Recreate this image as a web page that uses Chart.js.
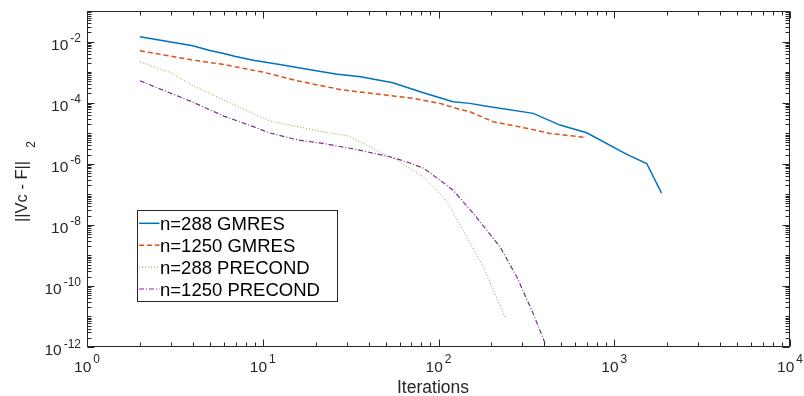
<!DOCTYPE html>
<html><head><meta charset="utf-8">
<script src="https://cdn.jsdelivr.net/npm/chart.js@4/dist/chart.umd.min.js"></script>
<style>html,body{margin:0;padding:0;background:#fff}canvas{display:block}</style>
</head><body>
<canvas id="c" width="804" height="396"></canvas>
<script>
// ---- data ----
const seriesLabels = ['n=288 GMRES', 'n=1250 GMRES', 'n=288 PRECOND', 'n=1250 PRECOND'];

const iterGmres288 = [2,3,4,5,6,7,9,10,13,16,19,26,36,55,82,121,151,180,346,491,697,1178,1530,1858];
const resGmres288  = [1.44e-2,9.6e-3,7.3e-3,5.08e-3,4.06e-3,3.23e-3,2.40e-3,2.18e-3,1.70e-3,1.39e-3,1.17e-3,8.63e-4,7.03e-4,4.48e-4,2.10e-4,1.07e-4,9.46e-5,7.89e-5,4.45e-5,1.84e-5,1.03e-5,2.02e-6,1.02e-6,1.09e-7];

const iterGmres1250 = [2,4,6,10,16,28,46,72,102,132,151,205,318,431,697];
const resGmres1250  = [5.0e-3,2.48e-3,1.77e-3,1.0e-3,5.08e-4,2.64e-4,1.87e-4,1.38e-4,9.46e-5,6.01e-5,5.02e-5,2.36e-5,1.44e-5,9.84e-6,7.16e-6];

const iterPrec288 = [2,3,4,6,9,11,16,22,31,39,46,58,70,82,106,116,145,180,205,239];
const resPrec288  = [2.18e-3,9.5e-4,3.6e-4,1.21e-4,4.12e-5,2.49e-5,1.62e-5,1.11e-5,8.02e-6,4.06e-6,2.45e-6,1.31e-6,6.50e-7,3.72e-7,8.23e-8,3.87e-8,4.03e-9,4.19e-10,7.21e-11,9.6e-12];

const iterPrec1250 = [2,4,6,9,11,16,22,34,53,66,82,102,121,158,224,279,346,404];
const resPrec1250  = [5.20e-4,1.04e-4,3.63e-5,1.58e-5,1.01e-5,5.93e-6,4.62e-6,2.94e-6,1.68e-6,1.15e-6,7.18e-7,2.90e-7,1.36e-7,2.35e-8,1.89e-9,1.97e-10,1.24e-11,1.32e-12];

const xTickExps = [0,1,2,3,4];
const yTickExps = [-2,-4,-6,-8,-10,-12];
const xTitle = 'Iterations';
const yTitle = '||Vc - F||';
const yTitleSub = '2';

// ---- styles ----
const AX = '#262626';
const FONT = '"Liberation Sans", Arial, Helvetica, sans-serif';
const styles = [
  {color:'#0072BD', width:1.5, dash:[]},
  {color:'#D95319', width:1.5, dash:[5,3]},
  {color:'#77AC30', width:1, dash:[1,2]},
  {color:'#7E2F8E', width:1.2, dash:[5,2,1,2]}
];
const iters = [iterGmres288, iterGmres1250, iterPrec288, iterPrec1250];
const res = [resGmres288, resGmres1250, resPrec288, resPrec1250];

function pts(xs, ys){ return xs.map((x,i)=>({x:x, y:ys[i]})); }

const axesPlugin = {
  id: 'matlabAxes',
  afterDatasetsDraw(chart){
    const ctx = chart.ctx, a = chart.chartArea, xs = chart.scales.x, ys = chart.scales.y;
    ctx.save();
    const L = Math.round(a.left) + 0.5, R = Math.round(a.right) - 0.5;
    const T = Math.round(a.top) + 0.5, B = Math.round(a.bottom) - 0.5;
    ctx.strokeStyle = AX; ctx.lineWidth = 1; ctx.setLineDash([]);
    // ticks
    ctx.beginPath();
    const maj = 7, mnr = 4;
    for (let e = 0; e <= 4; e++) {
      for (let m = 1; m <= (e === 4 ? 1 : 9); m++) {
        const v = m * Math.pow(10, e);
        const px = Math.round(xs.getPixelForValue(v)) + 0.5;
        const len = m === 1 ? maj : mnr;
        ctx.moveTo(px, B); ctx.lineTo(px, B - len);
        ctx.moveTo(px, T); ctx.lineTo(px, T + len);
      }
    }
    for (let e = -12; e <= -1; e++) {
      for (let m = 1; m <= (e === -1 ? 1 : 9); m++) {
        const v = m * Math.pow(10, e);
        const py = Math.round(ys.getPixelForValue(v)) + 0.5;
        const len = (m === 1 && e % 2 === 0) ? maj : mnr;
        ctx.moveTo(L, py); ctx.lineTo(L + len, py);
        ctx.moveTo(R, py); ctx.lineTo(R - len, py);
      }
    }
    ctx.stroke();
    ctx.strokeRect(L, T, R - L, B - T);

    // tick labels
    ctx.fillStyle = AX;
    ctx.textBaseline = 'alphabetic';
    const baseF = '15.5px ' + FONT, supF = '12px ' + FONT;
    xTickExps.forEach(e => {
      const px = xs.getPixelForValue(Math.pow(10, e));
      ctx.font = baseF; const wb = ctx.measureText('10').width;
      ctx.font = supF; const s = String(e); const wsup = ctx.measureText(s).width;
      const tot = wb + 2 + wsup;
      const x0 = px - tot / 2;
      ctx.textAlign = 'left';
      ctx.font = baseF; ctx.fillText('10', x0, 372);
      ctx.font = supF; ctx.fillText(s, x0 + wb + 2, 363);
    });
    yTickExps.forEach(e => {
      const py = ys.getPixelForValue(Math.pow(10, e));
      const s = String(e);
      ctx.font = supF; const wsup = ctx.measureText(s).width;
      const right = 81;
      ctx.textAlign = 'left';
      ctx.fillText(s, right - wsup, py + 0.5);
      ctx.font = baseF; const wb = ctx.measureText('10').width;
      ctx.fillText('10', right - wsup - 2 - wb, py + 8);
    });

    // axis titles
    ctx.font = '17.5px ' + FONT; ctx.textAlign = 'center';
    ctx.fillText(xTitle, 433, 393);
    ctx.save();
    ctx.translate(27, 222);
    ctx.rotate(-Math.PI / 2);
    ctx.textAlign = 'left';
    ctx.font = '16.5px ' + FONT;
    const wt = ctx.measureText(yTitle).width;
    ctx.fillText(yTitle, 0, 0);
    ctx.font = '12px ' + FONT;
    ctx.fillText(yTitleSub, wt + 13, 8);
    ctx.restore();

    // legend
    const bx = 137.5, by = 210.5, bw = 200, bh = 91;
    ctx.fillStyle = '#ffffff';
    ctx.fillRect(bx, by, bw, bh);
    ctx.strokeStyle = AX; ctx.lineWidth = 1;
    ctx.strokeRect(bx, by, bw, bh);
    ctx.font = '18.5px ' + FONT; ctx.textAlign = 'left';
    chart.data.datasets.forEach((ds, i) => {
      const cy = 223.3 + i * 21.9;
      ctx.strokeStyle = ds.borderColor; ctx.lineWidth = ds.borderWidth;
      ctx.setLineDash(ds.borderDash || []);
      ctx.beginPath(); ctx.moveTo(139, cy); ctx.lineTo(159.5, cy); ctx.stroke();
      ctx.setLineDash([]);
      ctx.fillStyle = '#000000';
      ctx.fillText(ds.label, 160, cy + 6.7);
    });
    ctx.restore();
  }
};

new Chart(document.getElementById('c'), {
  type: 'line',
  data: {
    datasets: seriesLabels.map((lab, i) => ({
      label: lab,
      data: pts(iters[i], res[i]),
      borderColor: styles[i].color,
      borderWidth: styles[i].width,
      borderDash: styles[i].dash,
      pointRadius: 0,
      tension: 0,
      fill: false
    }))
  },
  options: {
    responsive: false,
    animation: false,
    devicePixelRatio: 1,
    layout: {padding: {left: 87, top: 11, right: 14, bottom: 49}},
    plugins: {legend: {display: false}, tooltip: {enabled: false}},
    scales: {
      x: {type: 'logarithmic', min: 1, max: 10000, display: false},
      y: {type: 'logarithmic', min: 1e-12, max: 1e-1, display: false}
    }
  },
  plugins: [axesPlugin]
});
</script>
</body></html>
